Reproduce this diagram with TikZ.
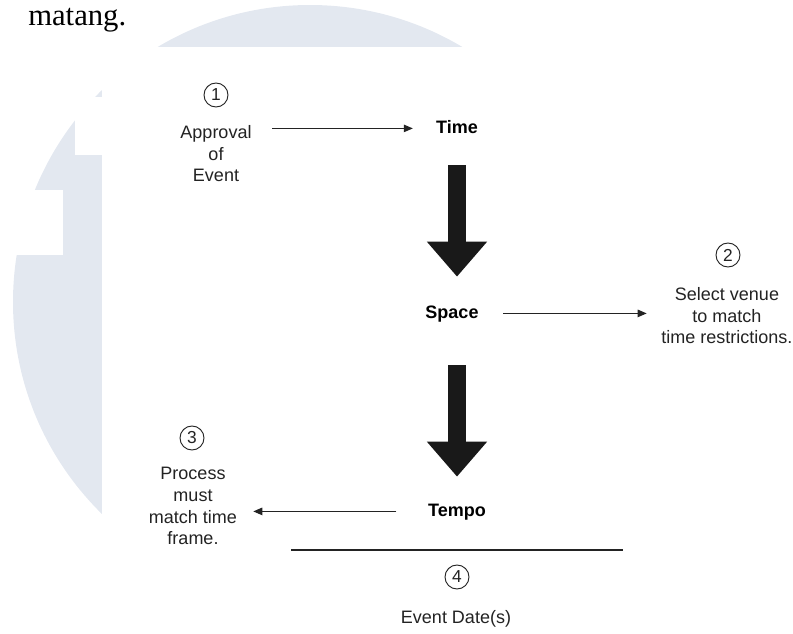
\documentclass[tikz,border=0pt]{standalone}
\usepackage{fontspec}
\setmainfont{Liberation Sans}
\newfontfamily\bodyserif{Liberation Serif}
\usepackage{xcolor}
\usepackage{tikz}
\usetikzlibrary{arrows.meta}

\definecolor{wmblue}{RGB}{227,232,240}
\definecolor{inkgray}{RGB}{35,35,35}

\begin{document}
\begin{tikzpicture}[x=0.75pt, y=-0.75pt,
    lbl/.style={inner sep=0, text height=9.7pt, text depth=2.8pt, font=\fontsize{13.5}{16}\selectfont\bfseries},
    note/.style={inner sep=0, anchor=north, align=center, text=inkgray, font=\fontsize{13.5}{16.3}\selectfont},
    num/.style={draw=inkgray, line width=0.7pt, circle, minimum size=18pt, inner sep=0, text=inkgray, font=\fontsize{13}{13}\selectfont},
    smallarrow/.style={draw=inkgray, line width=0.8pt, -{Triangle[length=6.75pt, width=5.6pt]}},
    bigarrow/.style={draw=black!90, line width=13.5pt, -{Triangle[length=26.25pt, width=43.5pt]}}]
    \useasboundingbox (0,0) rectangle (793,633);

    % watermark behind the figure
    \fill[wmblue] (310,302) circle [radius=297];
    \fill[white] (102,47) rectangle (793,633);
    \fill[white] (75,97) rectangle (102,155);
    \fill[white] (0,190) rectangle (63,255);

    \node[anchor=base west, inner sep=0, font=\bodyserif\fontsize{23}{26}\selectfont] (body) at (28,25) {matang.};

    % main column
    \node[lbl] (time) at (457,128.4) {Time};
    \node[lbl] (space) at (452,313.4) {Space};
    \node[lbl] (tempo) at (457,511.4) {Tempo};

    % numbered notes
    \node[num] (n1) at (216,95) {1};
    \node[note] (approval) at (216,125) {Approval\\of\\Event};
    \node[num] (n2) at (728,255) {2};
    \node[note] (venue) at (727,287) {Select venue\\to match\\time restrictions.};
    \node[num] (n3) at (192,438) {3};
    \node[note] (process) at (193,467) {Process\\must\\match time\\frame.};
    \node[num] (n4) at (457,577) {4};
    \node[note] (date) at (456,610) {Event Date(s)};

    % big arrows down the column
    \draw[bigarrow, shorten <=21.2pt, shorten >=21.1pt] (time.south) -- (time.south |- space.north);
    \draw[bigarrow, shorten <=32.5pt, shorten >=19.6pt] (tempo.north |- space.south) -- (tempo.north);

    % side arrows
    \draw[smallarrow, shorten <=15.4pt, shorten >=17.3pt] (approval.east |- time.west) -- (time.west);
    \draw[smallarrow, shorten <=18.4pt, shorten >=10.9pt] (space.east) -- (space.east -| venue.west);
    \draw[smallarrow, shorten <=23.6pt, shorten >=12pt] (tempo.west) -- (tempo.west -| process.east);

    % rule above the date
    \draw[inkgray, line width=0.8pt] (291,550) -- (623,550);
\end{tikzpicture}
\end{document}
